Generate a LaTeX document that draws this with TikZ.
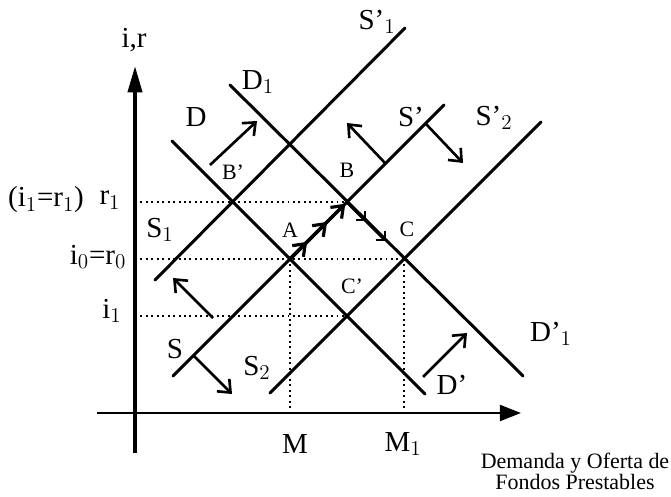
\documentclass[tikz,border=0pt]{standalone}
\usepackage{fontspec}
\setmainfont{Liberation Serif}
\usetikzlibrary{arrows.meta,calc}

\begin{document}
\begin{tikzpicture}[x=0.02cm,y=-0.02cm]
  \tikzstyle{curve}=[line width=1.7pt,line cap=round]
  \tikzstyle{guide}=[dotted,line width=1.1pt]
  \tikzstyle{shiftarr}=[line width=1.5pt,-{Straight Barb[length=6pt,width=10pt,line width=1.5pt]}]
  \tikzstyle{pathfwd}=[line width=2pt,-{Straight Barb[length=6pt,width=9pt,line width=1.8pt]}]
  \tikzstyle{pathdown}=[line width=1.7pt,-{Straight Barb[length=3.5pt,width=7pt,line width=1.2pt]}]
  \tikzstyle{big}=[font=\fontsize{16.5}{19}\selectfont,inner sep=0pt]
  \tikzstyle{small}=[font=\fontsize{12.5}{14}\selectfont,inner sep=0pt]
  \useasboundingbox (0,0) rectangle (671,496);

  % equilibrium points
  \coordinate (O) at (135,413);
  \coordinate (A) at (290,259);
  \coordinate (B) at (347,202);
  \coordinate (Bp) at (233,202);
  \coordinate (C) at (404,259);
  \coordinate (Cp) at (347,316);

  % axes
  \coordinate (ytop) at (135,66);
  \coordinate (ybot) at (135,453);
  \coordinate (xleft) at (97,413);
  \coordinate (xright) at (521,413);
  \draw[line width=2.2pt,-{Triangle[length=15pt,width=8pt]}] (ybot) -- (ytop);
  \draw[line width=1.5pt,-{Triangle[length=12pt,width=9pt]}] (xleft) -- (xright);

  % dotted guides
  \draw[guide] (B -| O) -- (B);
  \draw[guide] (C -| O) -- (C);
  \draw[guide] (Cp -| O) -- (Cp);
  \draw[guide] (A) -- (A |- O);
  \draw[guide] (C) -- (C |- O);

  % demand curves
  \coordinate (D-a) at (172,141);  \coordinate (D-b) at (425,394);
  \coordinate (D1-a) at (230,85);  \coordinate (D1-b) at (523,376);
  \draw[curve] (D-a) -- (D-b);
  \draw[curve] (D1-a) -- (D1-b);
  % supply curves
  \coordinate (S-a) at (173,376);  \coordinate (S-b) at (444,105);
  \coordinate (S1-a) at (155,280); \coordinate (S1-b) at (405,28);
  \coordinate (S2-a) at (270,393); \coordinate (S2-b) at (541,122);
  \draw[curve] (S-a) -- (S-b);
  \draw[curve] (S1-a) -- (S1-b);
  \draw[curve] (S2-a) -- (S2-b);

  % shifts of the curves
  \coordinate (d0) at (210,165);   \coordinate (d1) at (257,121);
  \coordinate (dp0) at (423,377);  \coordinate (dp1) at (467,333);
  \coordinate (s0) at (213,318);   \coordinate (s1) at (173,278);
  \coordinate (s2) at (193,355);   \coordinate (s3) at (232,394);
  \coordinate (sp0) at (385,163);  \coordinate (sp1) at (347,123);
  \coordinate (sp2) at (426,124);  \coordinate (sp3) at (463,163);
  \draw[shiftarr] (d0) -- (d1);
  \draw[shiftarr] (dp0) -- (dp1);
  \draw[shiftarr] (s0) -- (s1);
  \draw[shiftarr] (s2) -- (s3);
  \draw[shiftarr] (sp0) -- (sp1);
  \draw[shiftarr] (sp2) -- (sp3);

  % path A -> B -> C
  \draw[pathfwd] (A) -- ($(A)!0.3!(B)$);
  \draw[pathfwd] (A) -- ($(A)!0.65!(B)$);
  \draw[pathfwd] (A) -- ($(A)!0.97!(B)$);
  \draw[pathdown] (B) -- ($(B)!0.33!(C)$);
  \draw[pathdown] (B) -- ($(B)!0.68!(C)$);

  % labels
  \node[big] (ir) at (134,40) {i,r};
  \node[big] (r1) at (110,200) {r$_1$};
  \node[big] (i1r1) at (46,200) {(i$_1$=r$_1$)};
  \node[big] (i0r0) at (98,257) {i$_0$=r$_0$};
  \node[big] (i1) at (112,311) {i$_1$};
  \node[big] (M) at (295,444) {M};
  \node[big] (M1) at (403,444) {M$_1$};
  \node[big] (lD) at (196,117) {D};
  \node[big] (lD1) at (258,82) {D$_1$};
  \node[big] (lDp) at (452,385) {D'};
  \node[big] (lDp1) at (551,334) {D'$_1$};
  \node[big] (lS) at (175,349) {S};
  \node[big] (lS1) at (160,230) {S$_1$};
  \node[big] (lS2) at (257,368) {S$_2$};
  \node[big] (lSp) at (411,117) {S'};
  \node[big] (lSp1) at (377,22) {S'$_1$};
  \node[big] (lSp2) at (494,118) {S'$_2$};
  \node[small] (lA) at (290,230) {A};
  \node[small] (lB) at (347,170) {B};
  \node[small] (lBp) at (233,172) {B'};
  \node[small] (lC) at (407,229) {C};
  \node[small] (lCp) at (352,286) {C'};
  \node[small,align=center] (axis) at (575,471) {Demanda y Oferta de\\[-2pt]Fondos Prestables};
\end{tikzpicture}
\end{document}
